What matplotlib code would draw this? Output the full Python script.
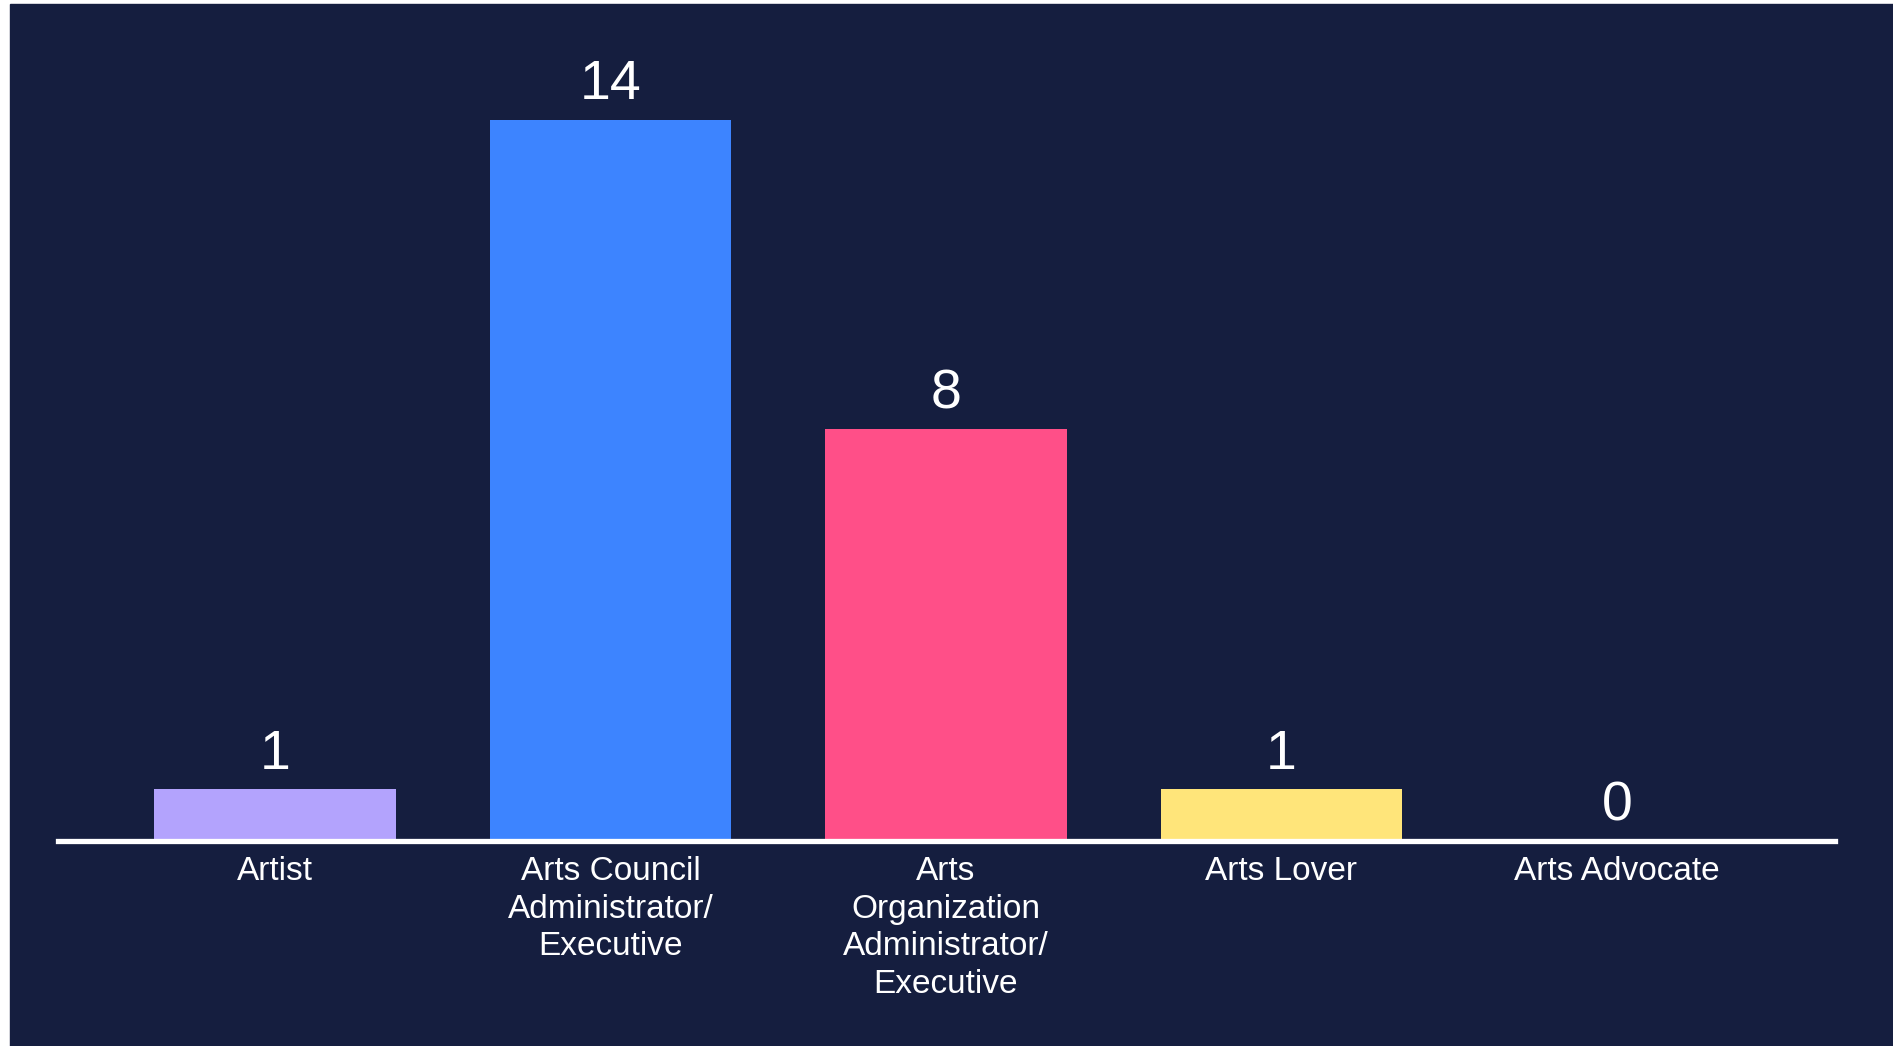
import matplotlib.pyplot as plt
from matplotlib.patches import Rectangle

categories = ["Artist", "Arts Council\nAdministrator/\nExecutive",
              "Arts\nOrganization\nAdministrator/\nExecutive",
              "Arts Lover", "Arts Advocate"]
counts = [1, 14, 8, 1, 0]
colors = ["#B3A3FD", "#3D84FF", "#FF4F88", "#FFE57A", "#FFFFFF"]

bg = "#151E3F"
plt.rcParams["font.family"] = ["Liberation Sans", "DejaVu Sans"]

fig = plt.figure(figsize=(18.93, 10.46), dpi=100, facecolor="white")
# dark panel (thin white strip left and top like the screenshot)
fig.patches.append(Rectangle((10 / 1893, 0), 1, 1 - 4 / 1046,
                             transform=fig.transFigure, color=bg, zorder=-10))

ax = fig.add_axes([58 / 1893, 205 / 1046, 1777 / 1893, 832 / 1046])
ax.set_facecolor("none")

x = list(range(len(categories)))
bars = ax.bar(x, counts, width=0.72, color=colors, zorder=2)

for xi, v in zip(x, counts):
    ax.annotate(str(v), (xi, v), xytext=(0, 6), textcoords="offset points",
                ha="center", va="bottom", color="white", fontsize=40)

ax.set_xlim(-0.647, 4.65)
ax.set_ylim(0, 16.15)
ax.set_xticks(x)
ax.set_xticklabels(categories, color="white", fontsize=24, linespacing=1.27)
ax.tick_params(axis="x", length=0, pad=11)
ax.set_yticks([])

for s in ["top", "left", "right"]:
    ax.spines[s].set_visible(False)
ax.spines["bottom"].set_color("white")
ax.spines["bottom"].set_linewidth(3.8)
ax.spines["bottom"].set_zorder(3)

plt.savefig("out.png", dpi=100, facecolor=fig.get_facecolor())
